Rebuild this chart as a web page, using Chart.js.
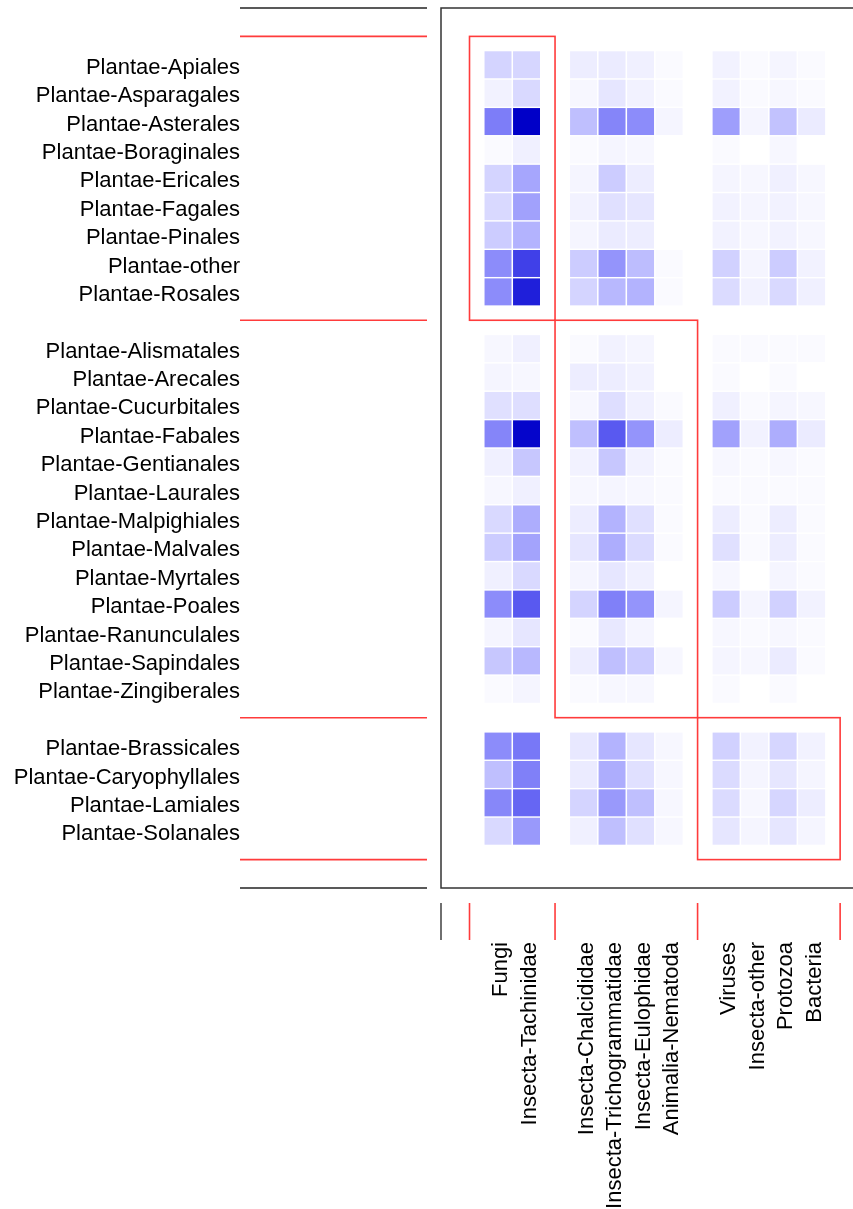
<!DOCTYPE html>
<html>
<head>
<meta charset="utf-8">
<script src="https://cdn.jsdelivr.net/npm/chart.js@4/dist/chart.umd.min.js"></script>
<style>
  html, body { margin: 0; padding: 0; background: #fff; overflow: hidden; }
  #wrap { width: 900px; height: 1209px; }
</style>
</head>
<body>
<div id="wrap"><canvas id="c" width="900" height="1209"></canvas></div>
<script>
// ---- data ----
const rows = [
  'Plantae-Apiales','Plantae-Asparagales','Plantae-Asterales','Plantae-Boraginales','Plantae-Ericales',
  'Plantae-Fagales','Plantae-Pinales','Plantae-other','Plantae-Rosales',
  'Plantae-Alismatales','Plantae-Arecales','Plantae-Cucurbitales','Plantae-Fabales','Plantae-Gentianales',
  'Plantae-Laurales','Plantae-Malpighiales','Plantae-Malvales','Plantae-Myrtales','Plantae-Poales',
  'Plantae-Ranunculales','Plantae-Sapindales','Plantae-Zingiberales',
  'Plantae-Brassicales','Plantae-Caryophyllales','Plantae-Lamiales','Plantae-Solanales'
];
const rowSlots = [0,1,2,3,4,5,6,7,8, 10,11,12,13,14,15,16,17,18,19,20,21,22, 24,25,26,27];

const columns = ['Fungi','Insecta-Tachinidae','Insecta-Chalcididae','Insecta-Trichogrammatidae',
  'Insecta-Eulophidae','Animalia-Nematoda','Viruses','Insecta-other','Protozoa','Bacteria'];
const colSlots = [0,1, 3,4,5,6, 8,9,10,11];

const fungi          = [0.17,0.05,0.51,0.02,0.17,0.15,0.20,0.45,0.45, 0.03,0.04,0.12,0.48,0.06,0.03,0.15,0.20,0.06,0.45,0.04,0.22,0.02, 0.45,0.25,0.47,0.15];
const tachinidae     = [0.16,0.15,1.00,0.06,0.35,0.37,0.30,0.75,0.88, 0.06,0.03,0.13,0.98,0.22,0.06,0.32,0.36,0.15,0.65,0.10,0.28,0.04, 0.53,0.50,0.60,0.40];
const chalcididae    = [0.07,0.03,0.25,0.02,0.04,0.05,0.04,0.20,0.17, 0.02,0.07,0.03,0.25,0.05,0.03,0.07,0.10,0.04,0.17,0.02,0.07,0.02, 0.09,0.08,0.17,0.06];
const trichogram     = [0.08,0.10,0.48,0.04,0.20,0.12,0.08,0.42,0.28, 0.05,0.07,0.13,0.65,0.22,0.04,0.30,0.32,0.10,0.50,0.09,0.25,0.03, 0.30,0.32,0.40,0.25];
const eulophidae     = [0.06,0.05,0.45,0.03,0.07,0.10,0.07,0.26,0.30, 0.04,0.05,0.06,0.42,0.05,0.03,0.12,0.14,0.06,0.42,0.04,0.20,0.03, 0.10,0.12,0.25,0.12];
const nematoda       = [0.02,0.02,0.04,null,null,null,null,0.02,0.02, null,null,0.02,0.07,0.02,0.02,0.02,0.02,null,0.04,null,0.03,null, 0.03,0.03,0.03,0.03];
const viruses        = [0.05,0.05,0.38,0.02,0.04,0.05,0.05,0.18,0.14, 0.02,0.02,0.06,0.37,0.03,0.02,0.07,0.12,0.03,0.20,0.03,0.04,0.02, 0.18,0.14,0.14,0.10];
const insectaOther   = [0.02,0.02,0.04,null,0.03,0.04,0.03,0.04,0.05, 0.02,null,0.02,0.05,0.02,0.02,0.02,0.02,null,0.04,0.02,0.03,null, 0.05,0.04,0.03,0.04];
const protozoa       = [0.04,0.03,0.24,0.03,0.06,0.05,0.05,0.20,0.15, 0.02,0.02,0.04,0.32,0.03,0.02,0.07,0.07,0.04,0.18,0.03,0.08,0.02, 0.16,0.10,0.16,0.10];
const bacteria       = [0.02,0.02,0.08,null,0.03,0.03,0.03,0.05,0.06, 0.02,null,0.03,0.08,0.02,0.02,0.02,0.02,0.02,0.05,0.02,0.02,null, 0.05,0.04,0.07,0.04];
const columnValues = [fungi, tachinidae, chalcididae, trichogram, eulophidae, nematoda, viruses, insectaOther, protozoa, bacteria];

// group blocks (slot boundaries)
const rowGroupEdges = [-1, 9, 23, 28];
const colGroupEdges = [-1, 2, 7, 12];

// ---- helpers ----
function cellColor(v) {
  const rg = Math.round(255 * (1 - v));
  const b = Math.round(255 - 55 * Math.pow(v, 3));
  return `rgb(${rg},${rg},${b})`;
}

const datasets = columns.map((name, ci) => {
  const vals = columnValues[ci];
  const data = [];
  vals.forEach((v, ri) => {
    if (v !== null) data.push({ x: [colSlots[ci] - 0.473, colSlots[ci] + 0.473], y: rowSlots[ri], v: v });
  });
  return {
    label: name,
    data: data,
    backgroundColor: (ctx) => ctx.raw ? cellColor(ctx.raw.v) : '#fff',
    borderWidth: 0,
    grouped: false,
    barPercentage: 0.95,
    categoryPercentage: 1.0
  };
});

const decor = {
  id: 'decor',
  afterDatasetsDraw(chart) {
    const { ctx, chartArea: a, scales: { x, y } } = chart;
    ctx.save();
    // frame
    ctx.strokeStyle = '#333';
    ctx.lineWidth = 1.5;
    ctx.strokeRect(a.left, a.top, a.right - a.left, a.bottom - a.top);
    // red block outlines
    ctx.strokeStyle = '#ff3b3b';
    ctx.lineWidth = 1.6;
    for (let i = 0; i < 3; i++) {
      const x0 = x.getPixelForValue(colGroupEdges[i]), x1 = x.getPixelForValue(colGroupEdges[i + 1]);
      const y0 = y.getPixelForValue(rowGroupEdges[i]), y1 = y.getPixelForValue(rowGroupEdges[i + 1]);
      ctx.strokeRect(x0, y0, x1 - x0, y1 - y0);
    }
    // left horizontal separators
    const lx0 = a.left - 201, lx1 = a.left - 14;
    ctx.strokeStyle = '#222'; ctx.lineWidth = 1.3;
    [a.top, a.bottom].forEach(py => { ctx.beginPath(); ctx.moveTo(lx0, py); ctx.lineTo(lx1, py); ctx.stroke(); });
    ctx.strokeStyle = '#ff3b3b'; ctx.lineWidth = 1.6;
    rowGroupEdges.forEach(s => { const py = y.getPixelForValue(s); ctx.beginPath(); ctx.moveTo(lx0, py); ctx.lineTo(lx1, py); ctx.stroke(); });
    // bottom vertical separators
    const by0 = a.bottom + 15, by1 = a.bottom + 52;
    ctx.strokeStyle = '#222'; ctx.lineWidth = 1.3;
    ctx.beginPath(); ctx.moveTo(a.left, by0); ctx.lineTo(a.left, by1); ctx.stroke();
    ctx.strokeStyle = '#ff3b3b'; ctx.lineWidth = 1.6;
    colGroupEdges.forEach(s => { const px = x.getPixelForValue(s); ctx.beginPath(); ctx.moveTo(px, by0); ctx.lineTo(px, by1); ctx.stroke(); });
    ctx.restore();
  }
};

const font = { family: "'Liberation Sans', Arial, sans-serif", size: 22 };

new Chart(document.getElementById('c'), {
  type: 'bar',
  data: { datasets },
  plugins: [decor],
  options: {
    indexAxis: 'y',
    responsive: false,
    animation: false,
    devicePixelRatio: 1,
    layout: { padding: { top: 8, left: 0, right: 0, bottom: 0 } },
    plugins: { legend: { display: false }, tooltip: { enabled: false } },
    scales: {
      y: {
        type: 'linear',
        reverse: true,
        offset: false,
        min: -2, max: 29,
        grid: { display: false, drawTicks: false, offset: false },
        border: { display: false },
        afterBuildTicks: (s) => { s.ticks = rowSlots.map(v => ({ value: v })); },
        afterFit: (s) => { s.width = 441; s.paddingTop = 0; s.paddingBottom = 0; },
        ticks: {
          autoSkip: false,
          padding: 201,
          labelOffset: 3,
          color: '#000',
          font: font,
          callback: (v) => { const i = rowSlots.indexOf(v); return i >= 0 ? rows[i] : ''; }
        }
      },
      x: {
        type: 'linear',
        offset: false,
        min: -2, max: 14.1,
        grid: { display: false, drawTicks: false },
        border: { display: false },
        afterBuildTicks: (s) => { s.ticks = colSlots.map(v => ({ value: v })); },
        afterFit: (s) => { s.height = 321; s.paddingLeft = 0; s.paddingRight = 0; },
        ticks: {
          autoSkip: false,
          minRotation: 90, maxRotation: 90,
          padding: 54,
          labelOffset: 3,
          color: '#000',
          font: font,
          callback: (v) => { const i = colSlots.indexOf(v); return i >= 0 ? columns[i] : ''; }
        }
      }
    }
  }
});
</script>
</body>
</html>
